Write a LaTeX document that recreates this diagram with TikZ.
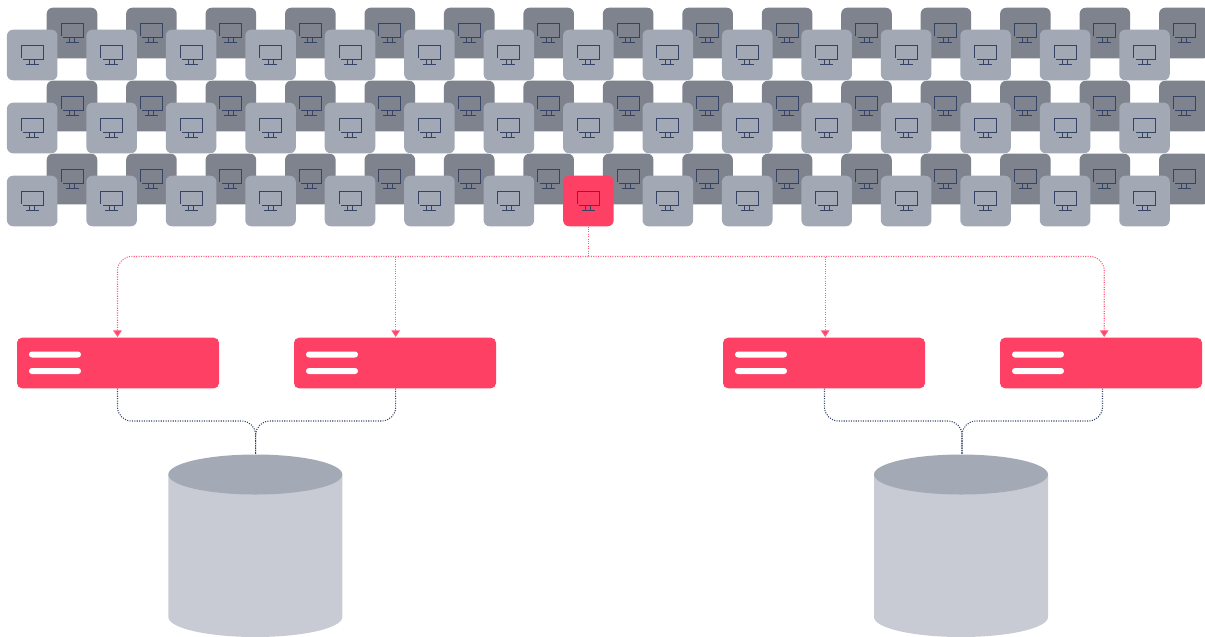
\documentclass[tikz,border=0pt]{standalone}
\usetikzlibrary{arrows.meta,shapes.geometric}
\definecolor{pcdark}{HTML}{7E838E}
\definecolor{pclight}{HTML}{A2A8B4}
\definecolor{alert}{HTML}{FF4065}
\definecolor{navy}{HTML}{1F2F55}
\definecolor{dbbody}{HTML}{C8CBD3}
\definecolor{dbtop}{HTML}{A3A9B5}
\tikzset{
  pcbox/.style={rounded corners=4.5pt, minimum width=37.9pt, minimum height=37.9pt, inner sep=0pt},
  server/.style={fill=alert, rounded corners=3.75pt, minimum width=151.5pt, minimum height=37.9pt, inner sep=0pt},
  bar/.style={fill=white, rounded corners=2.2pt, minimum width=39pt, minimum height=4.5pt, inner sep=0pt},
  lid/.style={ellipse, fill=dbtop, minimum width=130.5pt, minimum height=30pt, inner sep=0pt},
  hotlink/.style={draw=alert!85, densely dotted, line width=0.8pt, rounded corners=10.5pt},
  datalink/.style={draw=navy!90, densely dotted, line width=0.8pt, rounded corners=10.5pt},
  tip/.style={-{Triangle[length=5pt,width=6.5pt,fill=alert]}},
  monitor/.pic={
    \draw[navy!90, line width=0.7pt] (-11,3) -- (-11,-10) -- (11,-10) -- (11,4.5) -- (-9,4.5);
    \draw[navy!90, line width=0.7pt] (-2.5,4.5) -- (-2.5,9.5) (2.5,4.5) -- (2.5,9.5) (-6.5,9.5) -- (6.5,9.5);
  }
}
\begin{document}
\begin{tikzpicture}[x=0.75pt,y=-0.75pt,>=Stealth]
  \useasboundingbox (0,0) rectangle (1205,636);
  \clip (0,0) rectangle (1205,636);

  % rows of machines
  \foreach \row/\ya in {1/33,2/106,3/179} {
    \foreach \col in {0,...,14} {
      \node[pcbox, fill=pcdark] (back\row-\col) at ({72+79.45*\col},\ya) {};
      \pic at (back\row-\col.center) {monitor};
    }
  }
  \foreach \row/\ya in {1/55,2/128} {
    \foreach \col in {0,...,14} {
      \node[pcbox, fill=pclight] (front\row-\col) at ({32.2+79.45*\col},\ya) {};
      \pic at (front\row-\col.center) {monitor};
    }
  }
  \foreach \col in {0,1,2,3,4,5,6,8,9,10,11,12,13,14} {
    \node[pcbox, fill=pclight] (front3-\col) at ({32.2+79.45*\col},201) {};
    \pic at (front3-\col.center) {monitor};
  }
  \node[pcbox, fill=alert] (active) at (588.4,201) {};
  \pic at (active.center) {monitor};

  % servers
  \foreach \name/\xa in {srvA/118,srvB/395,srvC/824,srvD/1101} {
    \node[server] (\name) at (\xa,363) {};
    \node[bar] (\name-top) at (\xa-63,354.5) {};
    \node[bar] (\name-low) at (\xa-63,371) {};
  }

  % databases
  \foreach \name/\xa in {dbA/255.3,dbB/961} {
    \fill[dbbody] (\xa-87,474.5) -- (\xa-87,617) arc[start angle=180, end angle=0, x radius=87, y radius=20] -- (\xa+87,474.5) -- cycle;
    \node[lid] (\name) at (\xa,474.5) {};
  }

  \coordinate (bus) at (588.4,256.5);
  \coordinate (inA) at (117.5,337);
  \coordinate (inB) at (395.7,337);
  \coordinate (inC) at (825.2,337);
  \coordinate (inD) at (1104.2,337);
  \coordinate (outC) at (824.5,388.5);
  \coordinate (outD) at (1102.5,388.5);
  \coordinate (joinA) at (255.7,421);
  \coordinate (joinB) at (962,421);

  \draw[hotlink] (active.south) -- (bus);
  \draw[hotlink,tip] (bus) -| (inA);
  \draw[hotlink,tip] (bus) -| (inD);
  \draw[hotlink,tip] (inB |- bus) -- (inB);
  \draw[hotlink,tip] (inC |- bus) -- (inC);

  \draw[datalink] (inA |- srvA.south) |- (joinA) -- (joinA |- dbA.north);
  \draw[datalink] (inB |- srvB.south) |- (joinA) -- (joinA |- dbA.north);
  \draw[datalink] (outC) |- (joinB) -- (joinB |- dbB.north);
  \draw[datalink] (outD) |- (joinB) -- (joinB |- dbB.north);
\end{tikzpicture}
\end{document}
